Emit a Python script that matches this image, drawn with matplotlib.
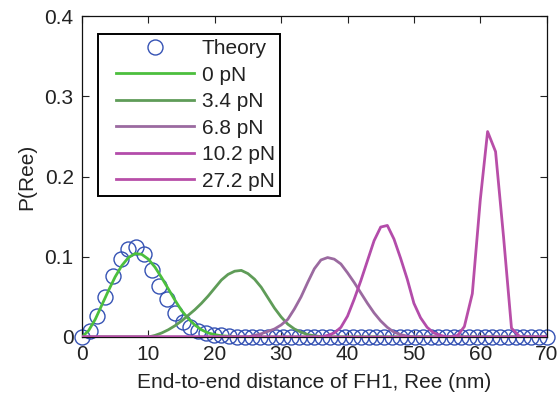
import numpy as np
import matplotlib
matplotlib.use("Agg")
import matplotlib.pyplot as plt
from matplotlib.lines import Line2D
from matplotlib.legend_handler import HandlerLine2D

plt.rcParams['font.family'] = ['Liberation Sans', 'DejaVu Sans']

# theory curve, evaluated on a regular grid 0..70 nm
theory_x = np.linspace(0, 70, 61)
theory_y = np.array([0, 0.008, 0.026, 0.050, 0.076, 0.097, 0.110, 0.112, 0.103, 0.083,
                     0.064, 0.047, 0.030, 0.019, 0.012, 0.008, 0.005, 0.003, 0.002, 0.001]
                    + [0] * 41)

# simulated distributions at each force
x_0pN = np.arange(0, 71)
y_0pN = np.array([0, 0.008, 0.022, 0.040, 0.058, 0.075, 0.089, 0.099, 0.104, 0.103,
                  0.097, 0.087, 0.074, 0.060, 0.046, 0.033, 0.023, 0.015, 0.009, 0.005,
                  0.003, 0.0015, 0.001, 0.0005] + [0] * 47)

x_3p4 = np.arange(0, 71)
y_3p4 = np.array([0] * 10 + [0, 0.002, 0.005, 0.009, 0.014, 0.020, 0.027, 0.034, 0.042, 0.051,
                             0.061, 0.071, 0.078, 0.082, 0.083, 0.079, 0.072, 0.062, 0.049, 0.036,
                             0.025, 0.016, 0.010, 0.006, 0.003, 0.0015, 0.0005] + [0] * 34)

x_6p8 = np.arange(0, 71)
y_6p8 = np.array([0] * 25 + [0, 0.002, 0.004, 0.007, 0.010, 0.015, 0.022, 0.035, 0.050, 0.068,
                             0.085, 0.096, 0.099, 0.097, 0.091, 0.080, 0.068, 0.055, 0.042, 0.030,
                             0.020, 0.012, 0.006, 0.003, 0.001] + [0] * 21)

x_10p2 = np.arange(0, 71)
y_10p2 = np.array([0] * 36 + [0, 0.002, 0.005, 0.012, 0.026, 0.047, 0.070, 0.095, 0.120, 0.137,
                              0.139, 0.122, 0.098, 0.072, 0.042, 0.024, 0.012, 0.005, 0.002] + [0] * 16)

x_27p2 = np.array([0, 54, 55.4, 56.6, 57.6, 58.8, 60.0, 61.1, 62.3, 63.5, 64.7, 66, 70])
y_27p2 = np.array([0, 0, 0, 0.002, 0.013, 0.054, 0.171, 0.256, 0.231, 0.125, 0.011, 0, 0])

labels = ['Theory', '0 pN', '3.4 pN', '6.8 pN', '10.2 pN', '27.2 pN']
colors = ['#4cbf3d', '#5f9c58', '#9b6aa0', '#b34caa', '#b84ea8']
txt = '#222222'
fs = 15

fig = plt.figure(figsize=(5.6, 4.0), dpi=100)
ax = fig.add_axes([0.1464, 0.1575, 0.8298, 0.8025])

# markers sit on the axis line, so let them spill outside the box
ax.plot(theory_x, theory_y, 'o', mfc='none', mec='#3552b4', ms=10.8, mew=1.0,
        label=labels[0], zorder=2, clip_on=False)
series = [(x_0pN, y_0pN), (x_3p4, y_3p4), (x_6p8, y_6p8), (x_10p2, y_10p2), (x_27p2, y_27p2)]
for (xs, ys), lab, c in zip(series, labels[1:], colors):
    ax.plot(xs, ys, '-', color=c, lw=2.0, label=lab, zorder=3)

ax.set_xlim(0, 70)
ax.set_ylim(0, 0.4)
ax.set_xticks(np.arange(0, 71, 10))
ax.set_yticks([0, 0.1, 0.2, 0.3, 0.4])
ax.set_yticklabels(['0', '0.1', '0.2', '0.3', '0.4'])
ax.tick_params(direction='in', top=True, right=True, length=5, width=0.8,
               labelsize=fs, colors=txt, pad=6)
for s in ax.spines.values():
    s.set_linewidth(0.9)
    s.set_color('#111111')
ax.set_xlabel('End-to-end distance of FH1, Ree (nm)', fontsize=fs, color=txt, labelpad=6)
ax.set_ylabel('P(Ree)', fontsize=fs, color=txt, labelpad=6)

# shift handles right inside the legend box
leg = ax.legend(loc='upper left', bbox_to_anchor=(0.035, 0.944), borderaxespad=0,
                fontsize=fs, handlelength=4.35, handletextpad=0.36, labelspacing=0.36,
                numpoints=1, fancybox=False, framealpha=1, edgecolor='black',
                borderpad=0.25, handler_map={Line2D: HandlerLine2D(xpad=0.6)})
leg.get_frame().set_linewidth(1.4)
for t in leg.get_texts():
    t.set_color(txt)

fig.savefig('out.png', dpi=100)
